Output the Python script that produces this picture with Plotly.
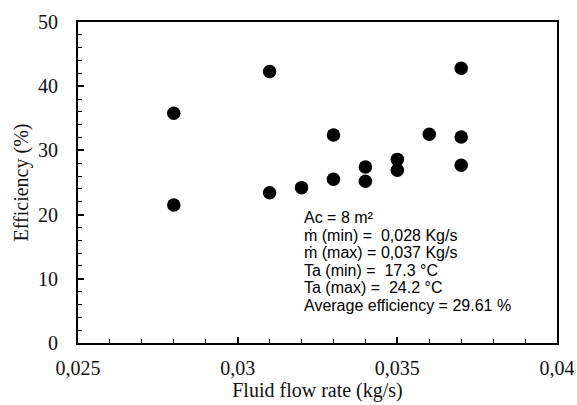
import plotly.graph_objects as go

flow_rate = [0.028, 0.028, 0.031, 0.031, 0.032, 0.033, 0.033, 0.034, 0.034,
             0.035, 0.035, 0.036, 0.037, 0.037, 0.037]
efficiency = [35.8, 21.5, 42.3, 23.4, 24.2, 32.4, 25.5, 27.4, 25.2,
              28.6, 26.9, 32.5, 42.8, 32.1, 27.7]
info_lines = ["Ac = 8 m²", "ṁ (min) =  0,028 Kg/s", "ṁ (max) = 0,037 Kg/s",
              "Ta (min) =  17.3 °C", "Ta (max) =  24.2 °C",
              "Average efficiency = 29.61 %"]

L, R, T, B = 78, 20, 22, 62
PW, PH = 577 - L - R, 405 - T - B

fig = go.Figure()
fig.add_trace(go.Scatter(x=flow_rate, y=efficiency, mode="markers",
                         marker=dict(color="black", size=13.5),
                         showlegend=False))

axis_font = dict(family="Liberation Serif", size=20, color="#111")
common = dict(ticks="inside", ticklen=6, tickwidth=1.5, tickcolor="black",
              showline=True, linecolor="black", linewidth=2, mirror=True,
              showgrid=False, zeroline=False, tickfont=axis_font, automargin=False)
fig.update_layout(
    width=577, height=405,
    margin=dict(l=L, r=R, t=T, b=B),
    separators=",.",
    plot_bgcolor="white", paper_bgcolor="white",
    xaxis=dict(range=[0.025, 0.04], tick0=0.025, dtick=0.005,
               minor=dict(dtick=0.001, ticks="inside", ticklen=4, tickwidth=1.2, tickcolor="black"),
               title=dict(text="Fluid flow rate (kg/s)", font=axis_font, standoff=2),
               ticklabelstandoff=6, **common),
    yaxis=dict(range=[0, 50], tick0=0, dtick=10,
               minor=dict(dtick=2, ticks="inside", ticklen=4, tickwidth=1.2, tickcolor="black"),
               title=dict(text="Efficiency (%)", font=axis_font, standoff=4),
               ticklabelstandoff=14, **common),
)

baselines = [222.7, 240.2, 257.6, 275.1, 292.5, 310.0]
for line, yb in zip(info_lines, baselines):
    fig.add_annotation(text=line, xref="paper", yref="paper",
                       x=(302 - L) / PW, y=(405 - B - (yb - 5)) / PH,
                       xanchor="left", yanchor="middle",
                       align="left", showarrow=False,
                       font=dict(family="Liberation Sans", size=16, color="black"))

fig.write_html("out.html", config={"displayModeBar": False},
               post_script="document.body.style.margin='0';")
